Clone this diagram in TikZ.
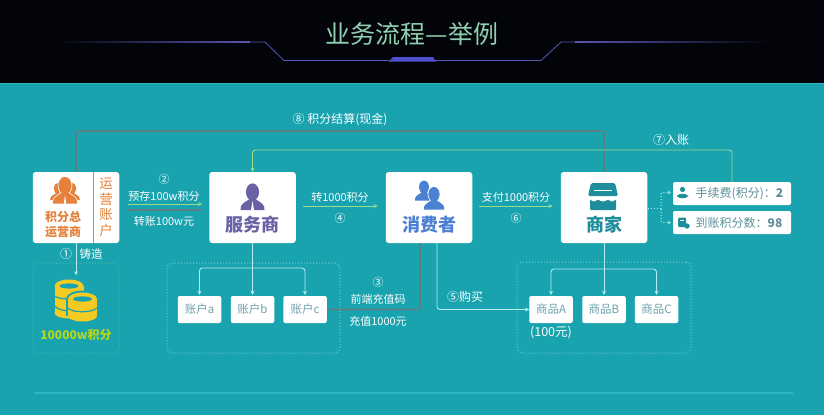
\documentclass[tikz,border=0pt]{standalone}
\usepackage{fontspec}
\usetikzlibrary{arrows.meta,calc}
\setmainfont{Noto Sans CJK SC}
\definecolor{bgteal}{HTML}{18A3AF}
\definecolor{topblack}{HTML}{03040A}
\definecolor{titlegreen}{HTML}{8FD0B0}
\definecolor{linepurple}{HTML}{5A55B0}
\definecolor{orangeop}{HTML}{E5813A}
\definecolor{purplesv}{HTML}{6A62A6}
\definecolor{bluecs}{HTML}{4B80D2}
\definecolor{tealmc}{HTML}{1F8E9C}
\definecolor{graytext}{HTML}{6FA3AE}
\definecolor{infotext}{HTML}{5E8F9B}
\definecolor{lightline}{HTML}{B5EDEE}
\definecolor{greenline}{HTML}{9BDB8E}
\definecolor{grayline}{HTML}{5C7F84}
\definecolor{dotline}{HTML}{70CCD6}
\definecolor{dotgreen}{HTML}{4DB8A6}
\definecolor{coinyellow}{HTML}{F3CB22}
\definecolor{rulelight}{HTML}{2DB5C0}
\tikzset{
  x=1pt,y=-1pt,
  card/.style={fill=white,rounded corners=3pt,inner sep=0pt,minimum width=86.5pt,minimum height=71pt},
  small/.style={fill=white,rounded corners=2pt,inner sep=0pt,minimum width=43.5pt,minimum height=27pt,text=graytext,font=\fontsize{11.5}{13}\selectfont},
  info/.style={fill=white,rounded corners=2pt,inner sep=0pt,minimum width=118pt,minimum height=23pt},
  group/.style={draw=dotline,line width=1pt,dotted,rounded corners=5pt,inner sep=0pt},
  lab/.style={text=white,inner sep=0pt,font=\fontsize{11}{13}\selectfont},
  num/.style={text=white,inner sep=0pt,font=\fontsize{11}{13}\selectfont},
  infolab/.style={inner sep=0pt,anchor=west,text=infotext,font=\fontsize{12}{14}\selectfont},
  lightarrow/.style={draw=lightline,line width=0.9pt,rounded corners=3pt,-{Stealth[length=4pt,width=4pt]}},
  greenarrow/.style={draw=greenline,line width=0.9pt,-{Stealth[length=4pt,width=4pt]}},
  grayconn/.style={draw=grayline,line width=1.7pt,rounded corners=2pt},
  dotconn/.style={draw=lightline,line width=1pt,dotted,rounded corners=2pt},
  bignm/.style={inner sep=0pt,font=\bfseries\fontsize{18}{20}\selectfont},
}
\newcommand{\personpath}[3]{%
  (#1,#2-8.5*#3) ellipse ({6.6*#3} and {8.6*#3})
  (#1-12*#3,#2+9.5*#3) .. controls (#1-12.5*#3,#2+4*#3) and (#1-9*#3,#2+2.5*#3) .. (#1-3.5*#3,#2-1*#3)
     -- (#1+3.5*#3,#2-1*#3) .. controls (#1+9*#3,#2+2.5*#3) and (#1+12.5*#3,#2+4*#3) .. (#1+12*#3,#2+9.5*#3) -- cycle
}
\newcommand{\personicon}[4]{% x y scale colour
  \draw[white,line width=1.4pt] \personpath{#1}{#2}{#3};
  \fill[#4] \personpath{#1}{#2}{#3};
}
\newcommand{\coinstack}[3]{% x top-y height
  \fill[coinyellow] (#1-14.5,#2) rectangle (#1+14.5,#2+#3);
  \fill[coinyellow] (#1,#2) ellipse (14.5 and 6.5);
  \fill[coinyellow] (#1,#2+#3) ellipse (14.5 and 5.5);
  \fill[bgteal] (#1,#2) ellipse (9.5 and 2.6);
}
\begin{document}
\begin{tikzpicture}
\useasboundingbox (0,0) rectangle (824,415);
\fill[bgteal] (0,0) rectangle (824,415);
\fill[topblack] (0,0) rectangle (824,83);
\fill[rulelight] (0,83) rectangle (824,84);
\fill[rulelight] (35,392.2) rectangle (793,393.8);
% title
\node[text=titlegreen,inner sep=0pt,font=\fontsize{25}{28}\selectfont] (title) at (412,33.5) {业务流程—举例};
\shade[left color=topblack,right color=linepurple] (55,41.6) rectangle (250,42.4);
\draw[linepurple,line width=0.8pt] (250,42) -- (265,42) -- (284,60.5) -- (541,60.5) -- (561,42) -- (575,42);
\shade[left color=linepurple,right color=topblack] (575,41.6) rectangle (770,42.4);
\fill[linepurple!70!blue!90!white] (389,61.5) -- (393,57) -- (433,57) -- (436,61.5) -- cycle;
% group boxes
\node[group,draw=dotgreen,minimum width=86pt,minimum height=90pt] (coinbox) at (76,308) {};
\node[group,minimum width=173pt,minimum height=90pt] (acctbox) at (253.5,308) {};
\node[group,minimum width=174pt,minimum height=91pt] (goodsbox) at (604,307.5) {};
% named routing points
\coordinate (y8) at (0,131);
\coordinate (y7) at (0,150);
\coordinate (yAcct) at (0,268);
\coordinate (yGoods) at (0,269);
% cards
\node[card] (oper) at (76,207.5) {};
\node[card] (svc) at (252.5,207.5) {};
\node[card] (cons) at (429,207.5) {};
\node[card] (merc) at (604,207.5) {};
\node[info] (fee) at (732,193.5) {};
\node[info] (recv) at (732,222.5) {};
\node[small] (aca) at (199.5,309.5) {账户a};
\node[small] (acb) at (252.5,309.5) {账户b};
\node[small] (acc) at (305,309.5) {账户c};
\node[small] (ga) at (551,309.5) {商品A};
\node[small] (gb) at (604,309.5) {商品B};
\node[small] (gc) at (656.5,309.5) {商品C};
% card labels
\draw[orangeop,line width=1pt] (93,172) -- (93,243);
\node[bignm,text=orangeop,align=center,font=\bfseries\fontsize{12}{15.5}\selectfont] (opname) at (63,224.5) {积分总\\运营商};
\node[inner sep=0pt,text=orangeop,align=center,font=\fontsize{13.5}{15.5}\selectfont] (opacct) at (106,207.5) {运\\营\\账\\户};
\node[bignm,text=purplesv] (svname) at (252.5,224.5) {服务商};
\node[bignm,text=bluecs] (csname) at (429,224.5) {消费者};
\node[bignm,text=tealmc] (mcname) at (604,225) {商家};
\node[infolab] (feetx) at (695.5,193.5) {手续费(积分)：\textbf{2}};
\node[infolab] (recvtx) at (695.5,222.5) {到账积分数：\textbf{98}};
% icons
\personicon{58}{194}{0.65}{orangeop}
\personicon{72}{194}{0.65}{orangeop}
\personicon{65}{194}{1}{orangeop}
\fill[white] (65,195) -- (63.8,203.5) -- (66.2,203.5) -- cycle;
\personicon{252.5}{200.5}{1}{purplesv}
\fill[white] (252.5,201) -- (251,210) -- (254,210) -- cycle;
\personicon{424}{193.4}{0.75}{bluecs}
\personicon{434}{201.5}{0.85}{bluecs}
% store icon
\fill[tealmc,rounded corners=1.5pt] (591,183) -- (615,183) -- (618,196) -- (588,196) -- cycle;
\draw[white,line width=0.8pt] (594,190.5) -- (612,190.5);
\fill[tealmc,rounded corners=1pt] (590,199) .. controls (592,202) and (596,202) .. (598,199) .. controls (600,202) and (606,202) .. (608,199) .. controls (610,202) and (614,202) .. (616,199) -- (616,210) -- (590,210) -- cycle;
% info icons
\fill[tealmc] (682.5,189.5) circle (2.6);
\fill[tealmc] (676.5,196) .. controls (680,193) and (685,193) .. (688.5,196) .. controls (686,199) and (679,199) .. (676.5,196) -- cycle;
\fill[tealmc,rounded corners=1pt] (678,217.5) rectangle (686,227);
\fill[white] (680,220) rectangle (684,221);
\fill[tealmc] (687,226) circle (2.7);
% coins
\coinstack{69}{286}{27}
\draw[bgteal,line width=1.2pt] (54.5,296) .. controls (60,300) and (78,300) .. (84,296);
\draw[bgteal,line width=1.2pt] (54.5,306) .. controls (58,310) and (66,311) .. (70,311);
\fill[bgteal] (82.5,299) ellipse (16.5 and 8.5);
\fill[bgteal] (66,299) rectangle (99,316);
\coinstack{82.5}{299}{17}
\draw[bgteal,line width=1.2pt] (68,308) .. controls (72,313) and (92,313) .. (97,308);
% connectors
\draw[grayconn] (oper.north) -- (oper.north |- y8) -- (merc.north |- y8) -- (merc.north);
\draw[greenarrow,rounded corners=3pt] (fee.north) -- (fee.north |- y7) -- (svc.north |- y7) -- (svc.north);
\draw[lightarrow] (oper.south) -- ($(oper.south)+(0,32)$);
\draw[greenarrow] ($(oper.east |- 0,204)+(9,0)$) -- ($(svc.west |- 0,204)+(-7,0)$);
\draw[grayconn] ($(oper.east |- 0,210)+(9,0)$) -- ($(svc.west |- 0,210)+(-7,0)$);
\draw[greenarrow] ($(svc.east |- 0,206)+(7,0)$) -- ($(cons.west |- 0,206)+(-8,0)$);
\draw[greenarrow] ($(cons.east |- 0,206)+(7,0)$) -- ($(merc.west |- 0,206)+(-8,0)$);
\draw[lightarrow] (svc.south) -- ($(acb.north)+(0,-1)$);
\draw[lightarrow] (acb |- yAcct) -- (aca |- yAcct) -- ($(aca.north)+(0,-1)$);
\draw[lightarrow] (acb |- yAcct) -- (acc |- yAcct) -- ($(acc.north)+(0,-1)$);
\draw[grayconn] ($(cons.south)+(-9,0)$) |- (acc.east);
\draw[lightarrow] ($(cons.south)+(8,0)$) |- (ga.west);
\draw[lightarrow] (merc.south) -- ($(gb.north)+(0,-1)$);
\draw[lightarrow] (gb |- yGoods) -- (ga |- yGoods) -- ($(ga.north)+(0,-1)$);
\draw[lightarrow] (gb |- yGoods) -- (gc |- yGoods) -- ($(gc.north)+(0,-1)$);
\draw[dotconn] (merc.east |- recv.north) ++(1,-2) -- ++(14,0);
\draw[dotconn,-{Stealth[length=3pt,width=3.5pt]}] (661,209) |- ($(fee.west)+(-2,-1)$);
\draw[dotconn,-{Stealth[length=3pt,width=3.5pt]}] (661,209) |- ($(recv.west)+(-2,0)$);
% texts
\node[lab,font=\fontsize{12}{14}\selectfont] (l8) at (340,120) {⑧ 积分结算(现金)};
\node[lab,font=\fontsize{12}{14}\selectfont] (l7) at (671,140) {⑦入账};
\node[num] (n2) at (164,179) {②};
\node[lab] (l2a) at (164,196) {预存100w积分};
\node[lab] (l2b) at (164,221) {转账100w元};
\node[num,font=\fontsize{12}{14}\selectfont] (n1) at (66,254) {①};
\node[lab,font=\fontsize{11.5}{13}\selectfont] (l1) at (91,254) {铸造};
\node[lab] (l4) at (340,197) {转1000积分};
\node[num] (n4) at (340,218) {④};
\node[lab] (l6) at (516,197) {支付1000积分};
\node[num] (n6) at (516,218) {⑥};
\node[num] (n3) at (378,282) {③};
\node[lab] (l3a) at (378,299) {前端充值码};
\node[lab] (l3b) at (378,321) {充值1000元};
\node[lab,font=\fontsize{12}{14}\selectfont] (l5) at (465,297) {⑤购买};
\node[lab,font=\fontsize{12.5}{14}\selectfont] (l100) at (551,332.5) {(100元)};
\node[lab,text=coinyellow!75!green,font=\bfseries\fontsize{12}{14}\selectfont] (lcoin) at (76,335) {10000w积分};
\end{tikzpicture}
\end{document}
